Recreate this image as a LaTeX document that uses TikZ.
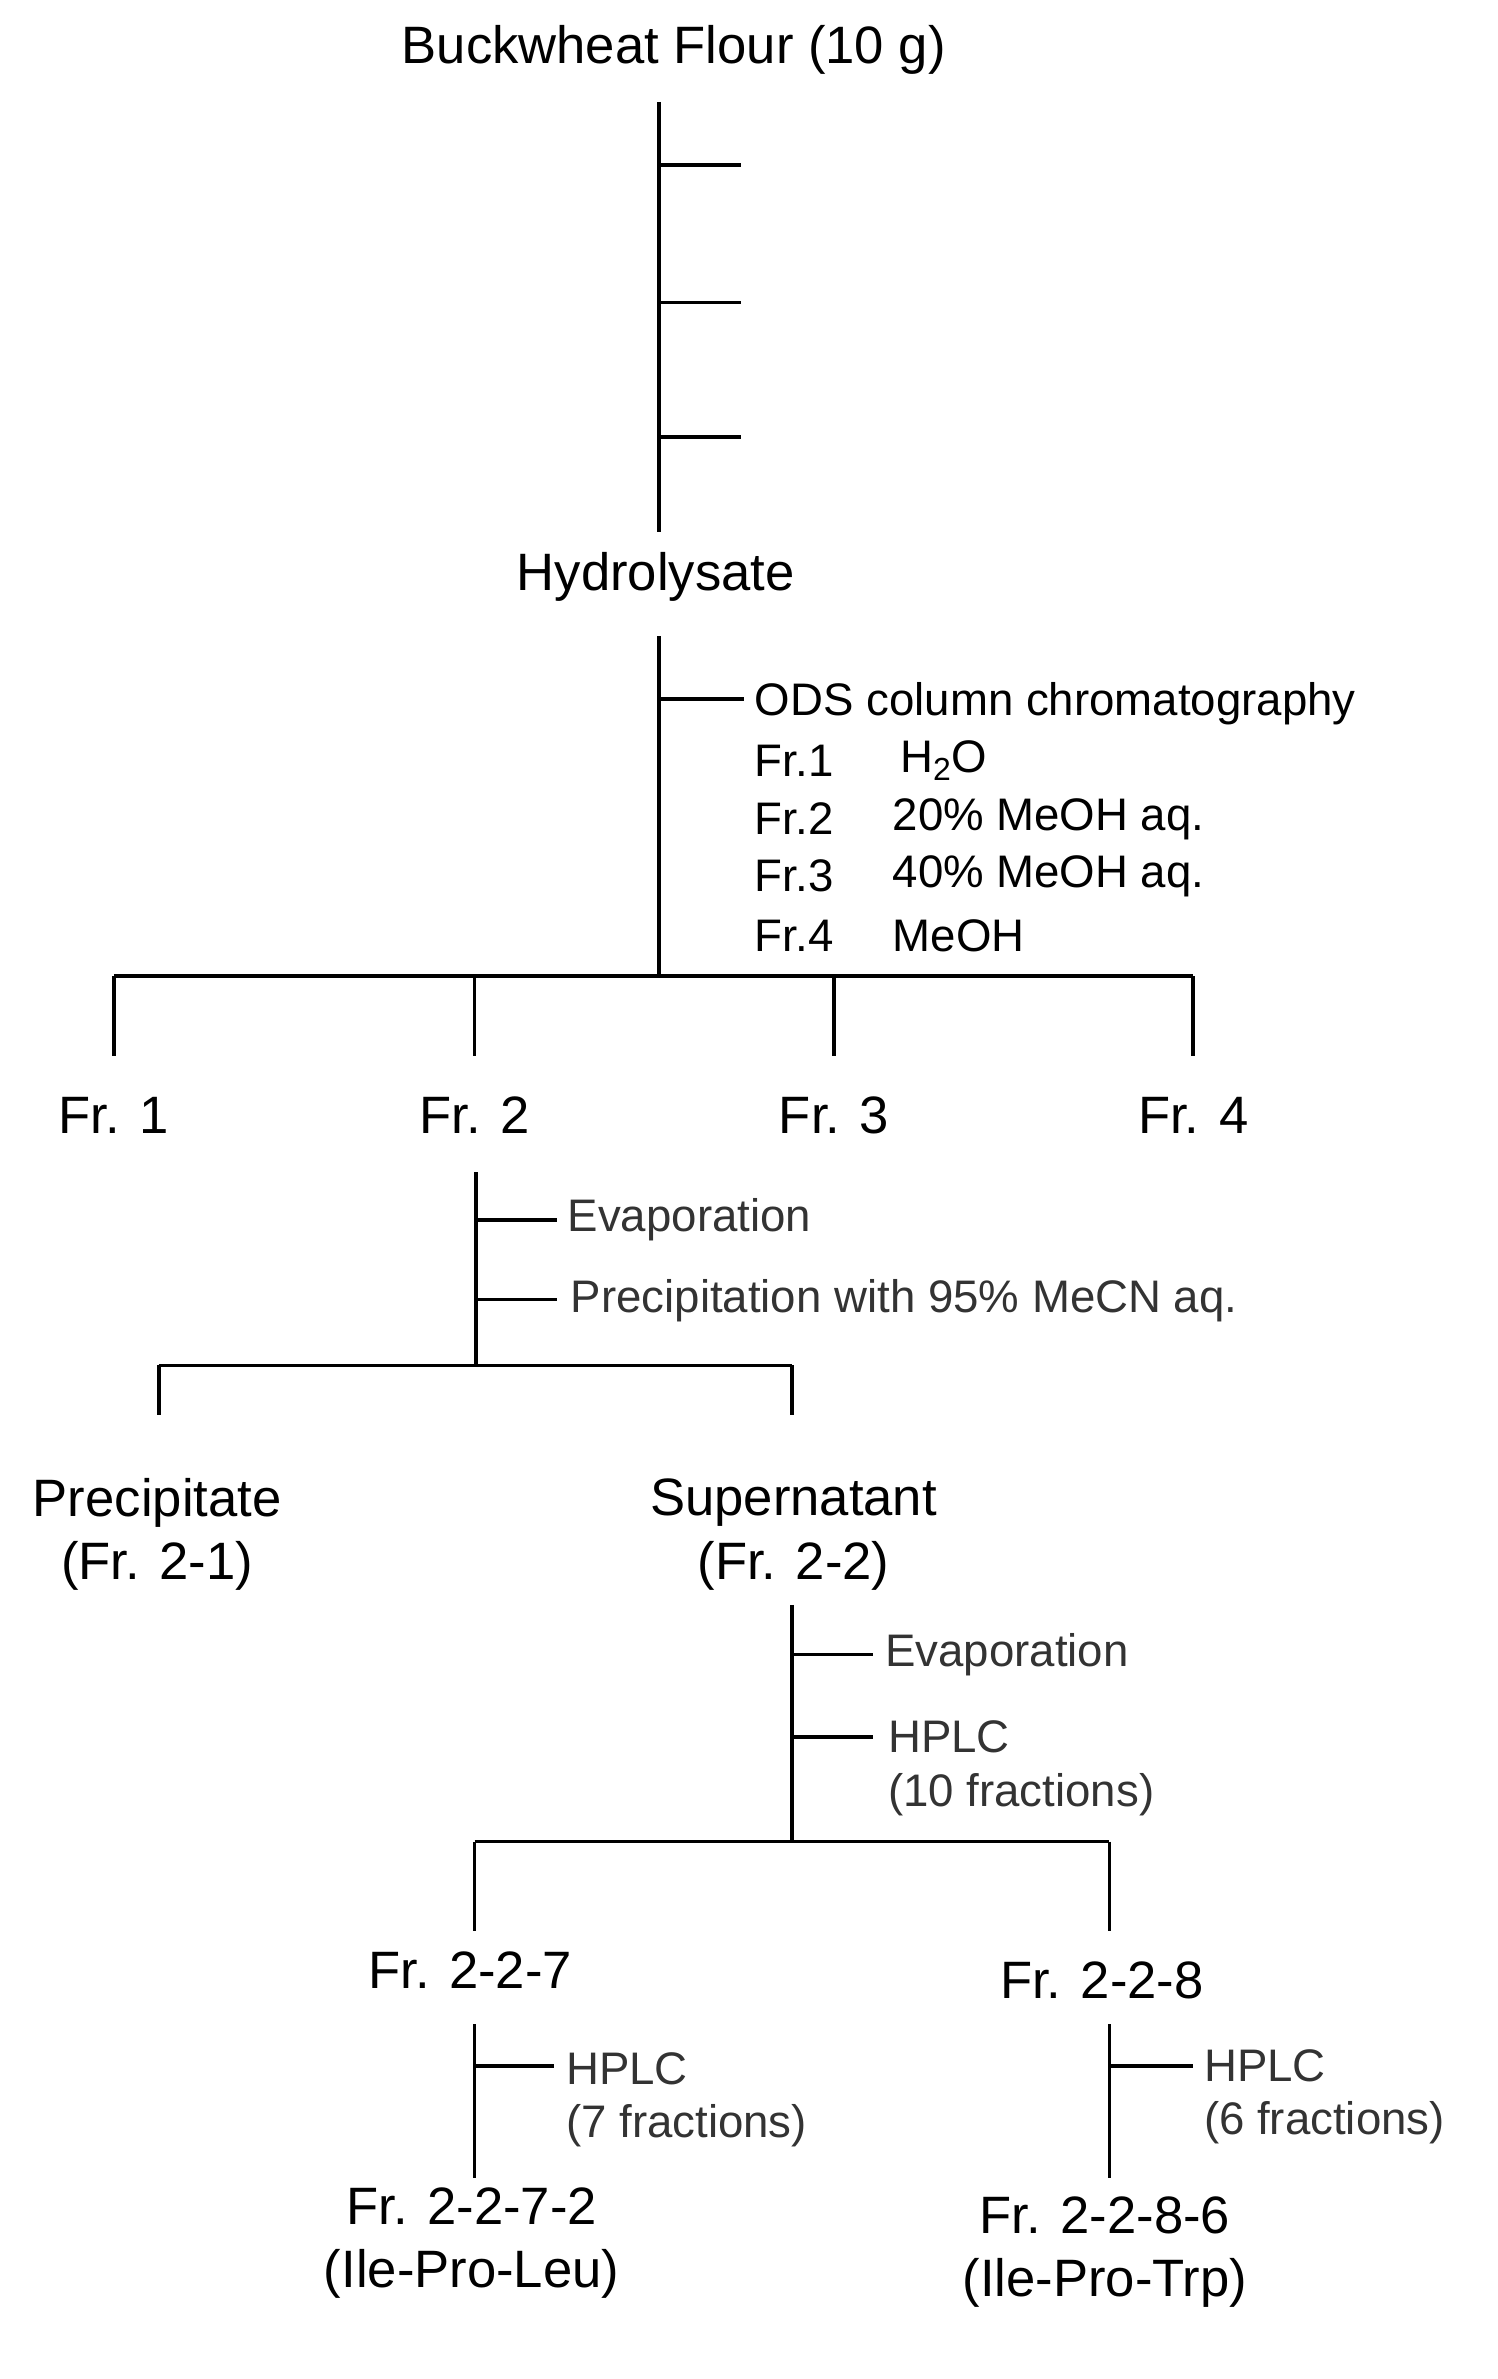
\documentclass[tikz,border=0pt]{standalone}
\usepackage{fontspec}
\setmainfont{Liberation Sans}
\begin{document}
\begin{tikzpicture}[x=0.03cm,y=-0.03cm,line width=2.1pt,
  big/.style={font=\fontsize{30}{34}\selectfont,inner sep=0pt},
  sm/.style={font=\fontsize{26}{30}\selectfont,inner sep=0pt,anchor=west,text=black!80},
  ln/.style={line width=2.1pt}]
\useasboundingbox (0,0) rectangle (1000,1589);
\node[big] (flour) at (450,33) {Buckwheat Flour (10 g)};
\node[big] (hyd) at (438,385) {Hydrolysate};
\coordinate (a1) at (440,68); \coordinate (a2) at (440,355);
\draw[ln] (a1) -- (a2);
\foreach \y/\n in {110/t1,202/t2,292/t3}{\coordinate (\n) at (440,\y); \draw[ln] (\n) -- ++(55,0);}
\coordinate (b1) at (440,425); \coordinate (b2) at (440,652);
\draw[ln] (b1) -- (b2);
\coordinate (bt) at (440,467); \draw[ln] (bt) -- ++(57,0);
\node[sm,text=black] (ods) at (503,470) {ODS column chromatography};
\node[sm,text=black] (f1l) at (503,508) {Fr.1}; \node[sm,text=black] (f1v) at (600,508) {H\textsubscript{2}O};
\node[sm,text=black] (f2l) at (503,547) {Fr.2}; \node[sm,text=black] (f2v) at (595,547) {20\% MeOH aq.};
\node[sm,text=black] (f3l) at (503,585) {Fr.3}; \node[sm,text=black] (f3v) at (595,585) {40\% MeOH aq.};
\node[sm,text=black] (f4l) at (503,625) {Fr.4}; \node[sm,text=black] (f4v) at (595,625) {MeOH};
\coordinate (hl) at (76,652); \coordinate (hr) at (797,652);
\draw[ln] (hl) -- (hr);
\foreach \x/\n/\t in {76/fr1/Fr. 1,317/fr2/Fr. 2,557/fr3/Fr. 3,797/fr4/Fr. 4}{
  \coordinate (d\n) at (\x,652); \draw[ln] (d\n) -- ++(0,53);
  \node[big] (\n) at (\x,745) {\t};}
\coordinate (c1) at (318,783); \coordinate (c2) at (318,912);
\draw[ln] (c1) -- (c2);
\coordinate (ct1) at (318,815); \draw[ln] (ct1) -- ++(54,0);
\coordinate (ct2) at (318,868); \draw[ln] (ct2) -- ++(54,0);
\node[sm] (ev1) at (378,815) {Evaporation};
\node[sm] (pr1) at (380,869) {Precipitation with 95\% MeCN aq.};
\coordinate (cl) at (106,912); \coordinate (cr) at (529,912);
\draw[ln] (cl) -- (cr); \draw[ln] (cl) -- ++(0,33); \draw[ln] (cr) -- ++(0,33);
\node[big,align=center] (prec) at (105,1025) {Precipitate\\[2pt](Fr. 2-1)};
\node[big,align=center] (sup) at (530,1025) {Supernatant\\[2pt](Fr. 2-2)};
\coordinate (e1) at (529,1072); \coordinate (e2) at (529,1230);
\draw[ln] (e1) -- (e2);
\coordinate (et1) at (529,1105); \draw[ln] (et1) -- ++(54,0);
\coordinate (et2) at (529,1160); \draw[ln] (et2) -- ++(54,0);
\node[sm] (ev2) at (590,1105) {Evaporation};
\node[sm] (hp1) at (592,1160) {HPLC};
\node[sm] (hp1b) at (592,1199) {(10 fractions)};
\coordinate (gl) at (317,1230); \coordinate (gr) at (741,1230);
\draw[ln] (gl) -- (gr); \draw[ln] (gl) -- ++(0,60); \draw[ln] (gr) -- ++(0,60);
\node[big] (f227) at (314,1316) {Fr. 2-2-7};
\node[big] (f228) at (736,1323) {Fr. 2-2-8};
\coordinate (h1) at (317,1352); \coordinate (h2) at (317,1455);
\draw[ln] (h1) -- (h2); \coordinate (ht) at (317,1380); \draw[ln] (ht) -- ++(53,0);
\node[sm] (hp2) at (377,1382) {HPLC};
\node[sm] (hp2b) at (377,1420) {(7 fractions)};
\coordinate (k1) at (741,1352); \coordinate (k2) at (741,1455);
\draw[ln] (k1) -- (k2); \coordinate (kt) at (741,1380); \draw[ln] (kt) -- ++(56,0);
\node[sm] (hp3) at (803,1380) {HPLC};
\node[sm] (hp3b) at (803,1418) {(6 fractions)};
\node[big,align=center] (f2272) at (315,1498) {Fr. 2-2-7-2\\[2pt](Ile-Pro-Leu)};
\node[big,align=center] (f2286) at (738,1504) {Fr. 2-2-8-6\\[2pt](Ile-Pro-Trp)};
\end{tikzpicture}
\end{document}
